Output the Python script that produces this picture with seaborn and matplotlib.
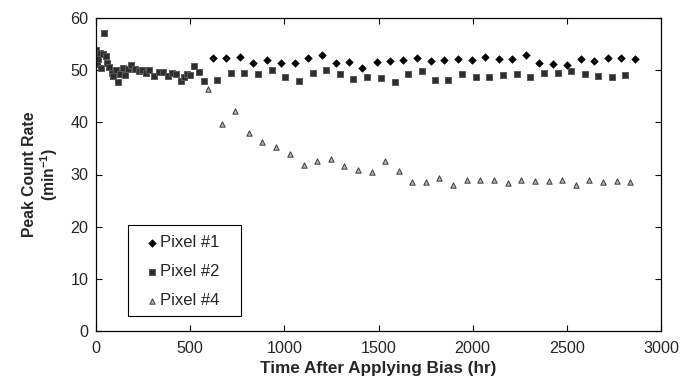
import matplotlib
matplotlib.use("Agg")
import matplotlib.pyplot as plt
from matplotlib.patches import Rectangle
import seaborn as sns
import pandas as pd

# ---- data ----
p1_time = [620, 690, 764, 835, 906, 981, 1055, 1128, 1200, 1275, 1345, 1415, 1490, 1561, 1632,
           1706, 1777, 1850, 1921, 1996, 2066, 2140, 2210, 2283, 2354, 2429, 2500, 2574, 2645,
           2718, 2789, 2862]
p1_rate = [52.4, 52.4, 52.6, 51.4, 51.9, 51.4, 51.4, 52.4, 53.0, 51.4, 51.6, 50.4, 51.5, 51.7, 51.9,
           52.4, 51.7, 52.0, 52.2, 51.9, 52.6, 52.1, 52.1, 53.0, 51.4, 51.2, 51.0, 52.1, 51.8,
           52.4, 52.3, 52.1]

p2_time = [2, 5, 12, 19, 28, 35, 45, 53, 61, 71, 84, 92, 104, 116, 128, 141, 155, 169, 187, 207,
           228, 246, 263, 283, 307, 334, 357, 380, 402, 425, 449, 466, 483, 499,
           522, 549, 574, 641, 716, 786, 859, 934, 1005, 1076, 1151, 1221, 1296, 1367, 1441, 1512,
           1585, 1657, 1730, 1800, 1871, 1945, 2016, 2089, 2161, 2234, 2305, 2379, 2452, 2522,
           2596, 2667, 2738, 2809]
p2_rate = [53.9, 51.2, 52.2, 53.2, 50.4, 53.1, 57.2, 52.8, 51.4, 50.7, 49.4, 48.8, 50.0, 47.7, 49.3,
           50.5, 49.1, 50.3, 51.0, 50.3, 49.9, 50.1, 49.4, 50.0, 48.9, 49.7, 49.7, 48.9, 49.5, 49.2,
           47.9, 48.7, 49.2, 49.1,
           50.8, 49.6, 47.9, 48.2, 49.5, 49.5, 49.2, 50.0, 48.6, 47.9, 49.5, 50.0, 49.2, 48.3, 48.7,
           48.5, 47.8, 49.3, 49.8, 48.1, 48.1, 49.3, 48.7, 48.6, 49.0, 49.2, 48.6, 49.4, 49.5, 49.8,
           49.2, 48.9, 48.6, 49.0]

p4_time = [596, 669, 740, 811, 883, 958, 1029, 1103, 1174, 1246, 1318, 1391, 1464, 1536, 1607,
           1680, 1751, 1823, 1898, 1969, 2040, 2113, 2186, 2258, 2329, 2404, 2475, 2549, 2620,
           2693, 2767, 2836]
p4_rate = [46.3, 39.7, 42.2, 37.9, 36.2, 35.2, 34.0, 31.8, 32.6, 32.9, 31.6, 30.8, 30.4, 32.5, 30.6,
           28.6, 28.6, 29.3, 27.9, 29.0, 28.9, 28.9, 28.3, 28.9, 28.8, 28.8, 28.9, 28.0, 28.9,
           28.6, 28.8, 28.6]

labels = ["Pixel #1", "Pixel #2", "Pixel #4"]
x_ticks = [0, 500, 1000, 1500, 2000, 2500, 3000]
y_ticks = [0, 10, 20, 30, 40, 50, 60]

sns.set_theme(style="ticks")
plt.rcParams["font.family"] = ["Liberation Sans", "DejaVu Sans"]
plt.rcParams["mathtext.fontset"] = "custom"
plt.rcParams["mathtext.rm"] = "Liberation Sans"
plt.rcParams["mathtext.bf"] = "Liberation Sans:bold"
plt.rcParams["xtick.direction"] = "in"
plt.rcParams["ytick.direction"] = "in"

fig = plt.figure(figsize=(6.92, 3.81), dpi=100)
ax = fig.add_axes([96 / 692, 50 / 381, 565 / 692, 313 / 381])

df1 = pd.DataFrame({"t": p1_time, "r": p1_rate})
df2 = pd.DataFrame({"t": p2_time, "r": p2_rate})
df4 = pd.DataFrame({"t": p4_time, "r": p4_rate})

sns.scatterplot(data=df1, x="t", y="r", ax=ax, marker="D", s=15, color="black",
                edgecolor="black", linewidth=0.4, label=labels[0])
sns.scatterplot(data=df2, x="t", y="r", ax=ax, marker="s", s=17, color="#2e2e2e",
                edgecolor="#5a5a5a", linewidth=0.7, label=labels[1])
sns.scatterplot(data=df4, x="t", y="r", ax=ax, marker="^", s=15, color="#b4b4b4",
                edgecolor="#3c3c3c", linewidth=0.7, label=labels[2])

ax.set_xlim(0, 3000)
ax.set_ylim(0, 60)
ax.set_xticks(x_ticks)
ax.set_yticks(y_ticks)
ax.tick_params(axis="both", labelsize=11.6, length=4, width=0.8, color="black",
               top=True, right=True)
ax.tick_params(axis="x", pad=7.5)
ax.tick_params(axis="y", pad=5.5)
for sp in ax.spines.values():
    sp.set_visible(True)
    sp.set_color("black")
    sp.set_linewidth(0.9)

ax.set_xlabel("Time After Applying Bias (hr)", fontsize=12.3, fontweight="bold", labelpad=3)
ax.set_ylabel("Peak Count Rate\n(min$^{\\mathbf{-1}}$)", fontsize=11.3, fontweight="bold",
              labelpad=7.3, linespacing=1.1)

leg = ax.legend(loc="lower left", bbox_to_anchor=(0.0566, 0.048), borderaxespad=0,
                frameon=False, fontsize=12,
                labelspacing=0.85, handletextpad=-0.5, borderpad=0.45, handlelength=2.0,
                markerscale=1.0)
# legend frame (box around the legend entries)
ax.add_patch(Rectangle((0.0566, 0.0479), 0.2, 0.2907, transform=ax.transAxes,
                       fill=False, edgecolor="black", linewidth=0.8, zorder=5))

fig.savefig("out.png", dpi=100)
